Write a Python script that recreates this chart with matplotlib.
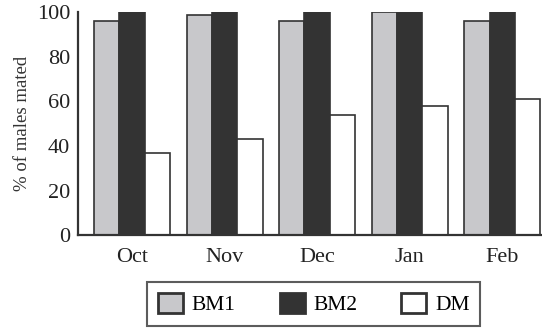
import matplotlib
matplotlib.use("Agg")
import matplotlib.pyplot as plt
import numpy as np

months = ["Oct", "Nov", "Dec", "Jan", "Feb"]
series_names = ["BM1", "BM2", "DM"]
bm1 = [96, 99, 96, 100, 96]
bm2 = [100, 100, 100, 100, 100]
dm = [37, 43, 54, 58, 61]
yticks = [0, 20, 40, 60, 80, 100]

plt.rcParams['font.family'] = ['Liberation Serif', 'DejaVu Serif']

fig = plt.figure(figsize=(5.42, 3.28), dpi=100)
ax = fig.add_axes([0.1439, 0.2835, 1 - 0.1439, 0.962 - 0.2835])

x = np.arange(len(months))
w = 0.274
edge = "#333333"
colors = ["#c8c8cb", "#333333", "#ffffff"]
handles = []
for i, (vals, c, name) in enumerate(zip([bm1, bm2, dm], colors, series_names)):
    b = ax.bar(x + (i - 1) * w, vals, width=w, color=c, edgecolor=edge,
               linewidth=1.2, label=name, zorder=2)
    handles.append(b)

ax.set_xlim(-0.584, 4.43)
ax.set_ylim(0, 100)
ax.set_yticks(yticks)
ax.set_xticks(x)
ax.set_xticklabels(months)
ax.tick_params(axis='both', length=0, labelsize=16, colors="#222222")
ax.tick_params(axis='y', pad=5.5)
ax.tick_params(axis='x', pad=9)
for s in ["top", "right"]:
    ax.spines[s].set_visible(False)
for s in ["left", "bottom"]:
    ax.spines[s].set_color("#333333")
    ax.spines[s].set_linewidth(1.6)
ax.spines["left"].set_zorder(3)
ax.set_ylabel("% of males mated", fontsize=13.5, color="#333333", labelpad=4)

leg = fig.legend(handles=handles, labels=series_names, loc="center",
                 bbox_to_anchor=(0.579, 0.073), ncol=3, fontsize=15.5,
                 frameon=True, fancybox=False, handlelength=1.16,
                 handleheight=1.07, handletextpad=0.4, columnspacing=2.05,
                 borderpad=0.5)
leg.get_frame().set_edgecolor("#333333")
leg.get_frame().set_linewidth(1.5)
for p in leg.get_patches():
    p.set_linewidth(2.0)

fig.savefig("out.png", dpi=100)
